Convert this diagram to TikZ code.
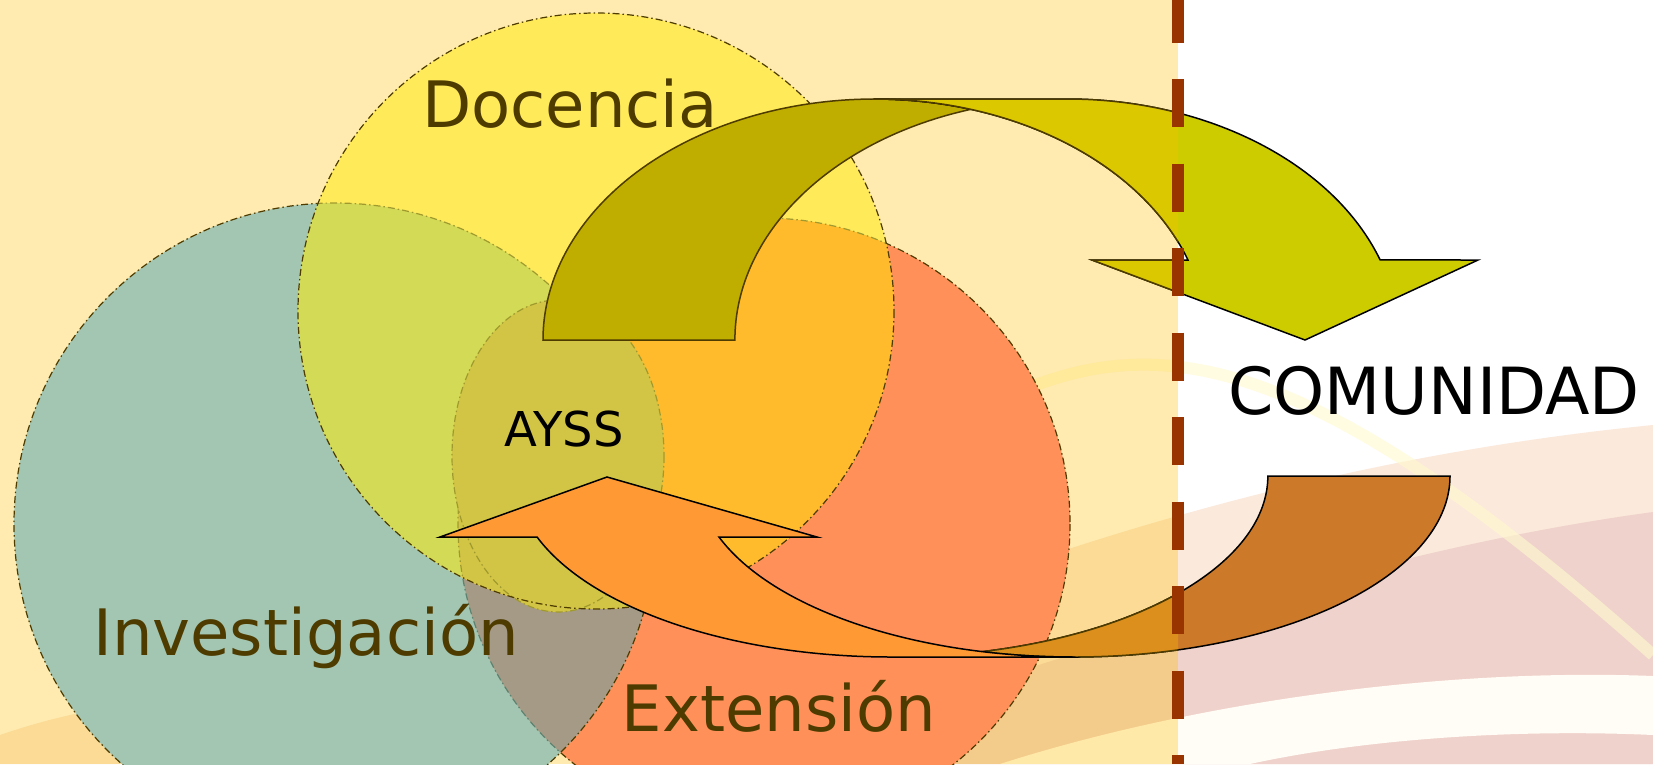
\documentclass[tikz,border=0pt]{standalone}
\usepackage{fontspec}
\setmainfont{DejaVu Sans}

\definecolor{overlayorange}{RGB}{255,191,0}
\definecolor{docyellow}{RGB}{255,234,90}
\definecolor{invteal}{RGB}{163,198,178}
\definecolor{extsalmon}{RGB}{255,144,90}
\definecolor{docinvgreen}{RGB}{210,218,86}
\definecolor{docextgold}{RGB}{255,187,44}
\definecolor{invextgrey}{RGB}{165,154,133}
\definecolor{ayssolive}{RGB}{210,196,68}
\definecolor{labelbrown}{RGB}{77,59,0}
\definecolor{oliveedge}{RGB}{160,154,46}
\definecolor{tealedge}{RGB}{94,130,112}
\definecolor{backolive}{RGB}{191,173,0}
\definecolor{limeright}{RGB}{204,204,0}
\definecolor{limeleft}{RGB}{220,200,0}
\definecolor{frontorange}{RGB}{255,153,51}
\definecolor{brownright}{RGB}{204,122,41}
\definecolor{brownleft}{RGB}{220,143,28}
\definecolor{splitred}{RGB}{153,51,0}
\definecolor{wavepeach}{RGB}{251,233,219}
\definecolor{wavepink}{RGB}{239,210,203}
\definecolor{wavewhite}{RGB}{255,253,246}
\definecolor{waveyellow}{RGB}{255,250,205}

\tikzset{
  venn edge/.style={line width=1.2pt, dash pattern=on 7pt off 3pt on 1.5pt off 3pt},
  venn label/.style={anchor=base, text=labelbrown, font=\fontsize{64}{70}\selectfont},
  arrow edge/.style={line width=1.5pt, line join=miter},
  % curved arrow towards the community
  arrow one back/.style={insert path={(543,340)
    arc[start angle=180, end angle=286.8, x radius=332, y radius=241]
    arc[start angle=253.2, end angle=180, x radius=332, y radius=241] -- cycle}},
  arrow one front/.style={insert path={(875,99) -- (1067,99)
    arc[start angle=270, end angle=340.6, x radius=332, y radius=241]
    -- (1478,260) -- (1305,340) -- (1092,260) -- (1188,260)
    arc[start angle=340.6, end angle=270, x radius=332, y radius=241] -- cycle}},
  % curved arrow back from the community
  arrow two back/.style={insert path={(1450,476)
    arc[start angle=0, end angle=104, x radius=376.5, y radius=181]
    arc[start angle=76, end angle=0, x radius=376.5, y radius=181] -- cycle}},
  arrow two front/.style={insert path={(1073.5,657) -- (891.5,657)
    arc[start angle=90, end angle=160.3, x radius=376.5, y radius=181]
    -- (440,537) -- (607,477) -- (817,537) -- (719,537)
    arc[start angle=160.3, end angle=90, x radius=376.5, y radius=181] -- cycle}}
}

\begin{document}
\begin{tikzpicture}[x=1pt,y=-1pt]
  \useasboundingbox (0,0) rectangle (1653,764);
  \fill[white] (0,0) rectangle (1653,764);

  % background waves
  \fill[wavepeach] (700,764) -- (700,690) .. controls (1000,560) and (1300,460) .. (1653,425) -- (1653,764) -- cycle;
  \fill[wavepink] (700,764) .. controls (1000,690) and (1300,560) .. (1653,512) -- (1653,764) -- cycle;
  \fill[wavewhite] (1000,764) .. controls (1200,700) and (1450,668) .. (1653,676) -- (1653,735) .. controls (1500,728) and (1350,742) .. (1250,764) -- cycle;
  \draw[waveyellow, line width=12pt, opacity=.6] (1000,400) .. controls (1150,330) and (1300,340) .. (1653,655);
  \fill[wavepeach] (0,764) -- (0,735) .. controls (100,700) and (250,680) .. (420,700) -- (420,764) -- cycle;

  % left panel
  \fill[overlayorange, opacity=.31] (0,0) rectangle (1178,764);

  \coordinate (ext) at (764,524);
  \coordinate (inv) at (335,524);
  \coordinate (doc) at (596,311);
  \coordinate (ayss) at (558,456);

  \fill[extsalmon] (ext) circle[radius=306];
  \draw[venn edge, labelbrown] (ext) circle[radius=306];

  \fill[invteal] (inv) circle[radius=321];
  \begin{scope}
    \clip (inv) circle[radius=321];
    \fill[invextgrey] (ext) circle[radius=306];
    \draw[venn edge, tealedge] (ext) circle[radius=306];
  \end{scope}
  \draw[venn edge, labelbrown] (inv) circle[radius=321];

  \fill[docyellow] (doc) circle[radius=298];
  \begin{scope}
    \clip (doc) circle[radius=298];
    \fill[docinvgreen] (inv) circle[radius=321];
    \fill[docextgold] (ext) circle[radius=306];
    \begin{scope}
      \clip (inv) circle[radius=321];
      \fill[ayssolive] (ext) circle[radius=306];
    \end{scope}
    \draw[venn edge, oliveedge] (inv) circle[radius=321];
    \draw[venn edge, oliveedge] (ext) circle[radius=306];
  \end{scope}

  \fill[ayssolive] (ayss) ellipse[x radius=106, y radius=156];
  \draw[venn edge, oliveedge] (ayss) ellipse[x radius=106, y radius=156];
  \draw[venn edge, labelbrown] (doc) circle[radius=298];

  \node[venn label] (doclabel) at (570,127) {Docencia};
  \node[venn label] (invlabel) at (306,655) {Investigación};
  \node[venn label] (extlabel) at (779,731) {Extensión};
  \node[anchor=base, font=\fontsize{48}{56}\selectfont] (ayslabel) at (564,446) {AYSS};

  % arrow to the community
  \filldraw[arrow edge, draw=labelbrown, fill=backolive, arrow one back];
  \filldraw[arrow edge, draw=black, fill=limeright, arrow one front];
  \begin{scope}
    \clip (0,0) rectangle (1178,764);
    \filldraw[arrow edge, draw=labelbrown, fill=limeleft, arrow one front];
  \end{scope}

  % arrow back from the community
  \filldraw[arrow edge, draw=black, fill=brownright, arrow two back];
  \begin{scope}
    \clip (0,0) rectangle (1178,764);
    \filldraw[arrow edge, draw=labelbrown, fill=brownleft, arrow two back];
  \end{scope}
  \filldraw[arrow edge, draw=black, fill=frontorange, arrow two front];

  \node[anchor=base, font=\fontsize{65}{72}\selectfont] (comunidad) at (1434,414) {COMUNIDAD};

  \coordinate (split top) at (1178,0);
  \coordinate (split bottom) at (1178,764);
  \draw[splitred, line width=12pt, dash pattern=on 48pt off 36.5pt, dash phase=5.5pt] (split top) -- (split bottom);
\end{tikzpicture}
\end{document}
